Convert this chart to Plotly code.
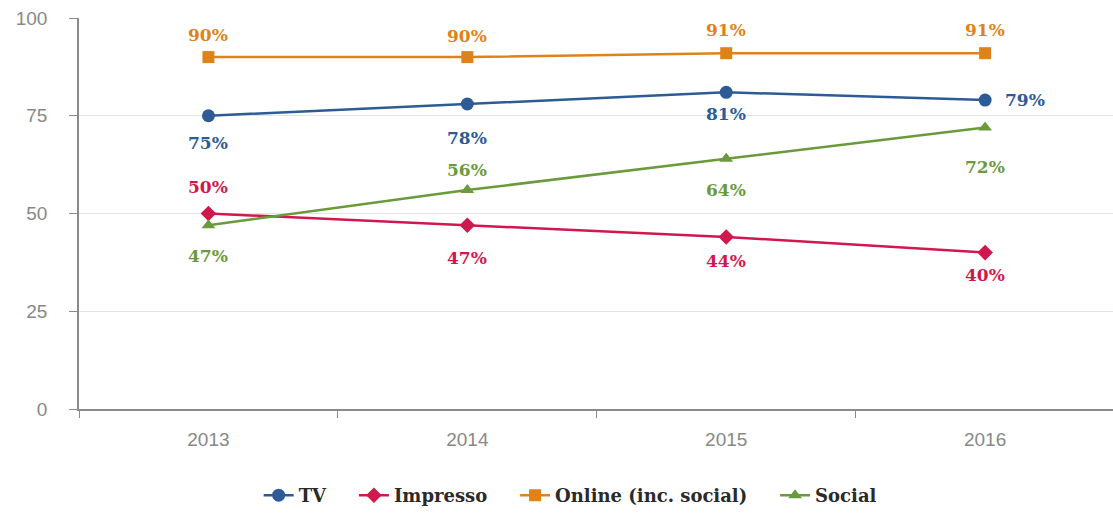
import plotly.graph_objects as go

years = ["2013", "2014", "2015", "2016"]
tv = [75, 78, 81, 79]
impresso = [50, 47, 44, 40]
online = [90, 90, 91, 91]
social = [47, 56, 64, 72]

series = [
    ("TV", tv, "#2D5B96", "circle", 13),
    ("Impresso", impresso, "#D1174E", "diamond", 12),
    ("Online (inc. social)", online, "#E0821A", "square", 12),
    ("Social", social, "#6A9A3B", "triangle-up", 12),
]

# label offsets in pixels (xshift, yshift) for each point's value label
label_shifts = {
    "TV": [(0, -27), (0, -34), (0, -22), (40, 0)],
    "Impresso": [(0, 27), (0, -33), (0, -24), (0, -22)],
    "Online (inc. social)": [(0, 22), (0, 21), (0, 23), (0, 23)],
    "Social": [(0, -31), (0, 20), (0, -31), (0, -40)],
}

GAP = "\u00a0" * 4  # extra room between legend entries

fig = go.Figure()
annotations = []
for k, (name, vals, color, symbol, size) in enumerate(series):
    pad = GAP if k < len(series) - 1 else ""
    fig.add_trace(go.Scatter(
        x=years, y=vals, name=f"<b>{name}</b>{pad}", mode="lines+markers",
        line=dict(color=color, width=2.5),
        marker=dict(symbol=symbol, size=size, color=color),
    ))
    for i, (v, (dx, dy)) in enumerate(zip(vals, label_shifts[name])):
        annotations.append(dict(
            x=i, y=v, xref="x", yref="y", text=f"<b>{v}%</b>",
            showarrow=False, xshift=dx, yshift=dy,
            font=dict(family="DejaVu Serif", size=17, color=color),
        ))

fig.update_layout(
    width=1113, height=514,
    margin=dict(l=79, r=0, t=18, b=103),
    paper_bgcolor="white", plot_bgcolor="white",
    annotations=annotations,
    showlegend=True,
    legend=dict(
        orientation="h", x=0.475, xanchor="center", y=-0.175, yanchor="top",
        font=dict(family="DejaVu Serif", size=18, color="#2a2a2a"),
        itemwidth=30,
    ),
    xaxis=dict(
        type="category", range=[-0.5, 3.494],
        showline=True, linecolor="#8a8a8a", linewidth=1.5,
        ticks="outside", tickson="boundaries", ticklen=7,
        tickcolor="#8a8a8a", showgrid=False, ticklabelstandoff=12,
        tickfont=dict(family="Liberation Sans", size=19, color="#888888"),
    ),
    yaxis=dict(
        range=[0, 100], tickvals=[0, 25, 50, 75, 100],
        showline=True, linecolor="#8a8a8a", linewidth=1.5,
        ticks="outside", ticklen=8, tickcolor="#8a8a8a",
        showgrid=True, gridcolor="#e3e3e3", gridwidth=1,
        zeroline=False, ticklabelstandoff=18,
        tickfont=dict(family="Liberation Sans", size=19, color="#888888"),
    ),
)

fig.write_html("out.html")
